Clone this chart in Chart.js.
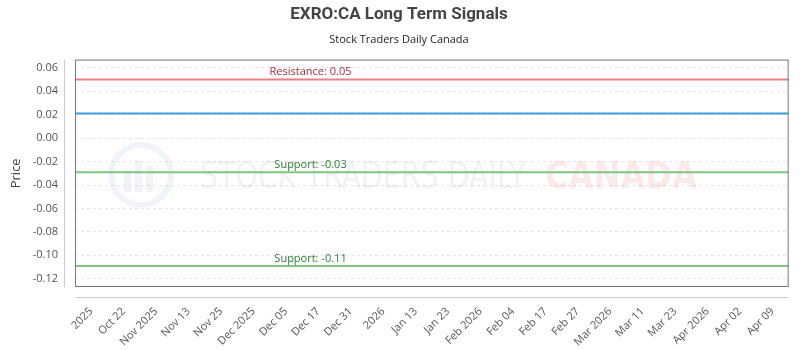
<!DOCTYPE html>
<html>
<head>
<meta charset="utf-8">
<script src="https://cdn.jsdelivr.net/npm/chart.js@4"></script>
<style>
  html, body { margin: 0; padding: 0; background: #fff; }
  #wrap { width: 800px; height: 350px; }
</style>
</head>
<body>
<div id="wrap"><canvas id="chartSignals"></canvas></div>
<script>
// categories on the x axis
const xLabels = ["2025", "Oct 22", "Nov 2025", "Nov 13", "Nov 25", "Dec 2025", "Dec 05", "Dec 17", "Dec 31",
  "2026", "Jan 13", "Jan 23", "Feb 2026", "Feb 04", "Feb 17", "Feb 27", "Mar 2026", "Mar 11", "Mar 23",
  "Apr 2026", "Apr 02", "Apr 09"];
// y tick labels
const yTicks = [0.06, 0.04, 0.02, 0.00, -0.02, -0.04, -0.06, -0.08, -0.10, -0.12];
// signal levels
const resistanceLevel = [0.05, 0.05];
const priceLevel = [0.021, 0.021];
const supportHigh = [-0.029, -0.029];
const supportLow = [-0.109, -0.109];
const levelLabels = ["Resistance: 0.05", "", "Support: -0.03", "Support: -0.11"];
const span = [0, 1];

function toPoints(vals) {
  return vals.map(function (v, i) { return { x: span[i], y: v }; });
}

var frame = {
  id: 'frame',
  beforeDatasetsDraw: function (chart) {
    var ctx = chart.ctx;
    ctx.save();
    // watermark
    ctx.globalAlpha = 0.07;
    ctx.strokeStyle = "#2a5b9a";
    ctx.lineWidth = 6;
    ctx.beginPath();
    ctx.arc(141, 175, 30, 0, Math.PI * 2);
    ctx.stroke();
    ctx.fillStyle = "#2a5b9a";
    ctx.fillRect(124, 170, 7, 22);
    ctx.fillRect(135, 160, 7, 32);
    ctx.fillRect(146, 166, 7, 26);
    ctx.font = '38px "DejaVu Sans Condensed", "DejaVu Sans"';
    ctx.textBaseline = "middle";
    ctx.fillStyle = "#3a4a6a";
    ctx.fillText("STOCK TRADERS DAILY", 200, 178, 326);
    ctx.globalAlpha = 0.1;
    ctx.fillStyle = "#e0303a";
    ctx.font = 'bold 38px "DejaVu Sans Condensed", "DejaVu Sans"';
    ctx.fillText("CANADA", 545, 178, 152);
    ctx.restore();
  },
  afterDatasetsDraw: function (chart) {
    var ctx = chart.ctx, a = chart.chartArea;
    var ys = chart.scales.y;
    ctx.save();
    // separate axis lines
    ctx.strokeStyle = "#cccccc";
    ctx.lineWidth = 1;
    ctx.beginPath();
    ctx.moveTo(a.left - 10.5, a.top);
    ctx.lineTo(a.left - 10.5, a.bottom);
    ctx.moveTo(a.left, a.bottom + 10.5);
    ctx.lineTo(a.right, a.bottom + 10.5);
    ctx.stroke();
    // plot box
    ctx.strokeStyle = "#777777";
    ctx.strokeRect(a.left + 0.5, a.top + 0.5, a.right - a.left - 1, a.bottom - a.top - 1);
    // level labels
    ctx.font = '11px "Open Sans"';
    ctx.textAlign = "center";
    ctx.textBaseline = "bottom";
    var x = a.left + (a.right - a.left) * 0.33;
    var colors = ["#b02a3a", "", "#2e7d32", "#2e7d32"];
    var lv = [resistanceLevel[0], priceLevel[0], supportHigh[0], supportLow[0]];
    for (var i = 0; i < lv.length; i++) {
      if (!levelLabels[i]) continue;
      ctx.fillStyle = colors[i];
      ctx.fillText(levelLabels[i], x, ys.getPixelForValue(lv[i]) - 2);
    }
    ctx.restore();
  }
};

var ctx = document.getElementById("chartSignals");
var chartSignals = new Chart(ctx, {
  type: 'line',
  plugins: [frame],
  data: {
    labels: xLabels,
    datasets: [
      { label: "Resistance", data: toPoints(resistanceLevel), xAxisID: 'x2', borderColor: "#e8808a", borderWidth: 2, pointRadius: 0 },
      { label: "Price", data: toPoints(priceLevel), xAxisID: 'x2', borderColor: "#3d9be0", borderWidth: 2, pointRadius: 0 },
      { label: "Support", data: toPoints(supportHigh), xAxisID: 'x2', borderColor: "#7cc67f", borderWidth: 2, pointRadius: 0 },
      { label: "Support 2", data: toPoints(supportLow), xAxisID: 'x2', borderColor: "#7cc67f", borderWidth: 2, pointRadius: 0 }
    ]
  },
  options: {
    responsive: true,
    maintainAspectRatio: false,
    animation: false,
    layout: { padding: { left: 8, right: 10, top: 0, bottom: 0 } },
    plugins: {
      legend: { display: false },
      tooltip: { enabled: false },
      title: {
        display: true,
        text: "EXRO:CA Long Term Signals",
        color: "#444",
        font: { family: "Roboto", size: 17, weight: 'bold' },
        padding: { top: 5, bottom: 8 }
      },
      subtitle: {
        display: true,
        text: "Stock Traders Daily Canada",
        color: "#222",
        font: { family: "Open Sans", size: 11 },
        padding: { bottom: 13 }
      }
    },
    scales: {
      x: {
        type: 'category',
        offset: true,
        grid: { display: false, drawTicks: false },
        border: { display: false },
        afterFit: function (scale) { scale.height = 63; },
        ticks: {
          color: "#555",
          font: { family: "Open Sans", size: 11 },
          autoSkip: false,
          maxRotation: 45,
          minRotation: 45,
          padding: 18
        }
      },
      x2: {
        type: 'linear',
        display: false,
        min: 0,
        max: 1
      },
      y: {
        min: -0.127,
        max: 0.067,
        afterBuildTicks: function (scale) {
          scale.ticks = yTicks.map(function (v) { return { value: v }; });
        },
        afterFit: function (scale) { scale.width = 67; },
        title: {
          display: true,
          text: "Price",
          color: "#444",
          font: { family: "Open Sans", size: 13 },
          padding: { top: 0, bottom: 4 }
        },
        grid: { color: "#e6e6e6", drawTicks: false, tickBorderDash: [3, 3] },
        border: { display: false, dash: [3, 3] },
        ticks: {
          color: "#555",
          font: { family: "Open Sans", size: 11 },
          padding: 17,
          callback: function (v) { return Number(v).toFixed(2); }
        }
      }
    }
  }
});
</script>
</body>
</html>
